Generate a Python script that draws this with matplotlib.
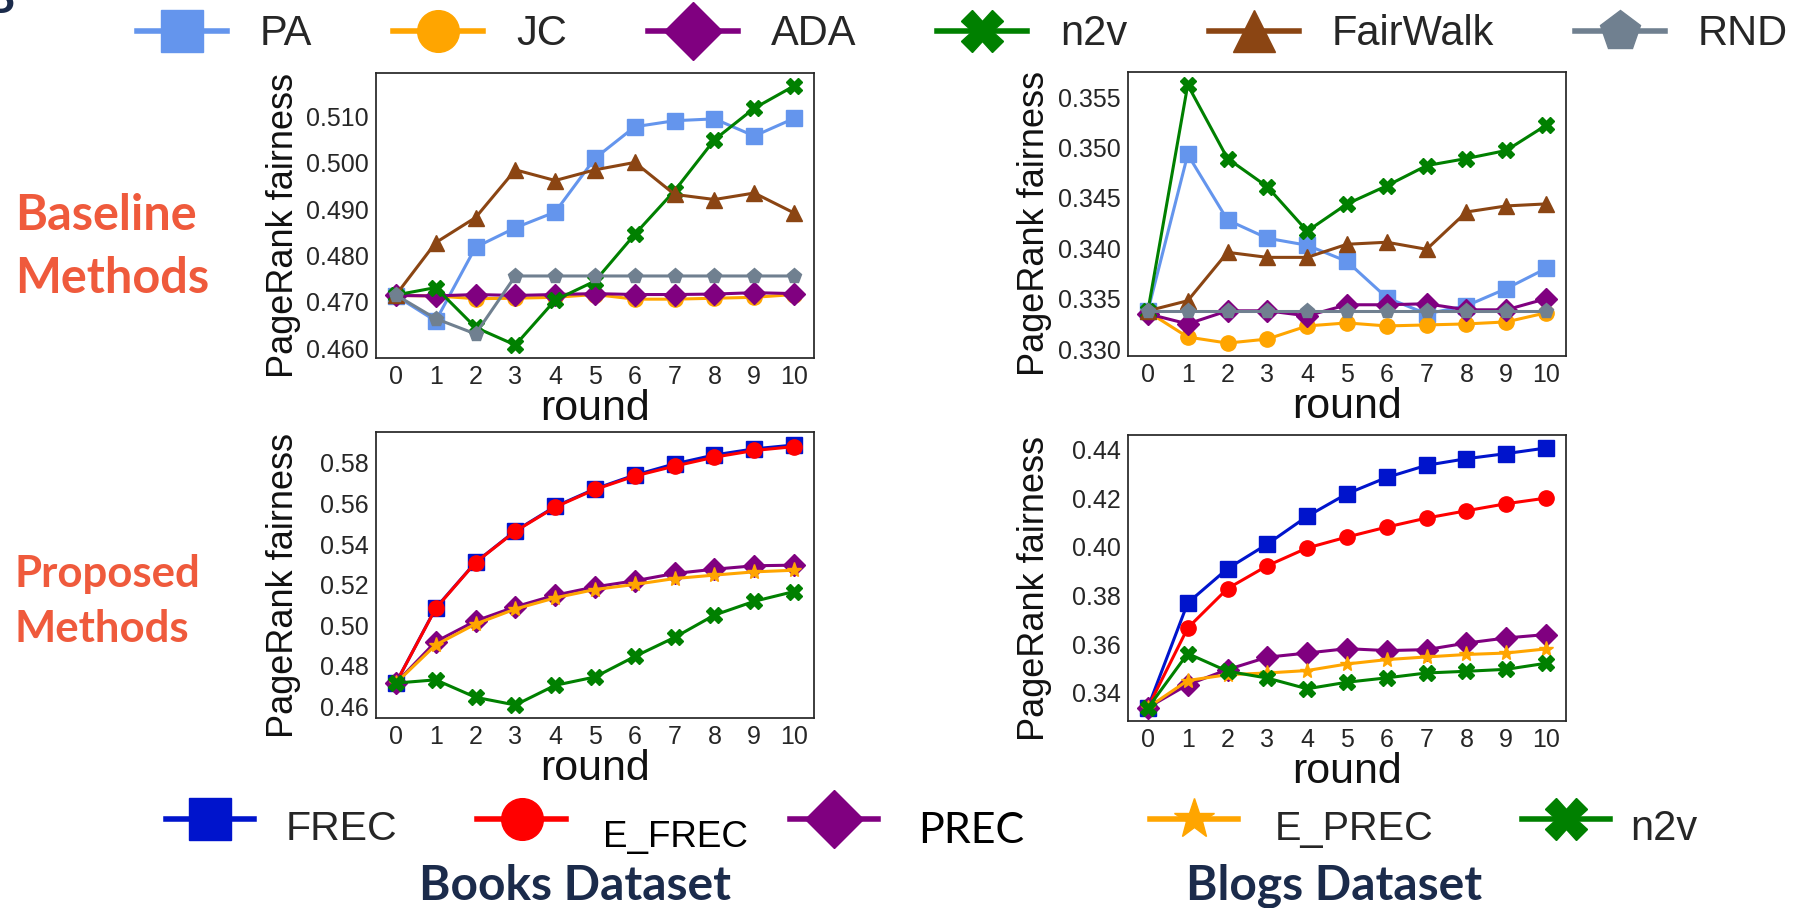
import matplotlib
matplotlib.use('Agg')
import matplotlib.pyplot as plt
from matplotlib.lines import Line2D
from matplotlib.ticker import MultipleLocator, FormatStrFormatter

plt.rcParams['font.family'] = ['Liberation Sans', 'DejaVu Sans']

rounds = [0, 1, 2, 3, 4, 5, 6, 7, 8, 9, 10]

# ---- Books dataset, baseline methods
books_PA = [0.4713, 0.4659, 0.4818, 0.4860, 0.4894, 0.5010, 0.5078, 0.5091, 0.5095, 0.5058, 0.5096]
books_JC = [0.4714, 0.4713, 0.4707, 0.4708, 0.4710, 0.4716, 0.4706, 0.4706, 0.4708, 0.4710, 0.4716]
books_ADA = [0.4714, 0.4713, 0.4716, 0.4714, 0.4716, 0.4718, 0.4716, 0.4716, 0.4717, 0.4720, 0.4718]
books_n2v = [0.4715, 0.4731, 0.4645, 0.4607, 0.4704, 0.4745, 0.4846, 0.4940, 0.5050, 0.5118, 0.5166]
books_FairWalk = [0.4715, 0.4828, 0.4882, 0.4985, 0.4962, 0.4985, 0.5001, 0.4932, 0.4921, 0.4935, 0.4892]
books_RND = [0.4715, 0.4664, 0.4631, 0.4756, 0.4756, 0.4756, 0.4756, 0.4756, 0.4756, 0.4756, 0.4756]

# ---- Blogs dataset, baseline methods
blogs_PA = [0.3338, 0.3493, 0.3428, 0.3410, 0.3403, 0.3387, 0.3351, 0.3335, 0.3343, 0.3360, 0.3380]
blogs_JC = [0.3337, 0.3312, 0.3306, 0.3310, 0.3323, 0.3326, 0.3323, 0.3324, 0.3325, 0.3327, 0.3336]
blogs_ADA = [0.3335, 0.3325, 0.3338, 0.3338, 0.3333, 0.3344, 0.3344, 0.3345, 0.3339, 0.3339, 0.3350]
blogs_n2v = [0.3338, 0.3562, 0.3489, 0.3461, 0.3417, 0.3444, 0.3462, 0.3482, 0.3489, 0.3497, 0.3522]
blogs_FairWalk = [0.3338, 0.3348, 0.3396, 0.3391, 0.3391, 0.3404, 0.3406, 0.3399, 0.3436, 0.3442, 0.3444]
blogs_RND = [0.3338, 0.3338, 0.3338, 0.3338, 0.3338, 0.3338, 0.3338, 0.3338, 0.3338, 0.3338, 0.3338]

# ---- Books dataset, proposed methods
books_FREC = [0.4715, 0.5085, 0.5310, 0.5465, 0.5585, 0.5672, 0.5740, 0.5795, 0.5839, 0.5869, 0.5888]
books_E_FREC = [0.4715, 0.5083, 0.5309, 0.5463, 0.5582, 0.5669, 0.5735, 0.5784, 0.5828, 0.5861, 0.5880]
books_PREC = [0.4715, 0.4919, 0.5021, 0.5091, 0.5148, 0.5189, 0.5219, 0.5255, 0.5276, 0.5293, 0.5296]
books_E_PREC = [0.4715, 0.4903, 0.5006, 0.5080, 0.5135, 0.5176, 0.5201, 0.5230, 0.5247, 0.5263, 0.5271]

# ---- Blogs dataset, proposed methods
blogs_FREC = [0.3340, 0.3770, 0.3911, 0.4012, 0.4126, 0.4219, 0.4286, 0.4336, 0.4363, 0.4384, 0.4407]
blogs_E_FREC = [0.3340, 0.3667, 0.3829, 0.3923, 0.3996, 0.4041, 0.4082, 0.4119, 0.4149, 0.4178, 0.4201]
blogs_PREC = [0.3340, 0.3434, 0.3496, 0.3547, 0.3564, 0.3582, 0.3574, 0.3578, 0.3605, 0.3626, 0.3640]
blogs_E_PREC = [0.3340, 0.3451, 0.3475, 0.3482, 0.3492, 0.3519, 0.3537, 0.3548, 0.3558, 0.3564, 0.3581]

baseline_names = ['PA', 'JC', 'ADA', 'n2v', 'FairWalk', 'RND']
proposed_names = ['FREC', 'E_FREC', 'PREC', 'E_PREC', 'n2v']
x_tick_labels = ['0', '1', '2', '3', '4', '5', '6', '7', '8', '9', '10']

styles = {
    'PA': ('#6495ED', 's'),
    'JC': ('#FFA500', 'o'),
    'ADA': ('#800080', 'D'),
    'n2v': ('#008000', 'X'),
    'FairWalk': ('#8B4513', '^'),
    'RND': ('#708090', 'p'),
    'FREC': ('#0014CC', 's'),
    'E_FREC': ('#FF0000', 'o'),
    'PREC': ('#800080', 'D'),
    'E_PREC': ('#FFA500', '*'),
}

W, H = 1797, 908
fig = plt.figure(figsize=(W / 100, H / 100), dpi=100)
fig.patch.set_facecolor('white')


def px_axes(l, t, r, b):
    return fig.add_axes([l / W, 1 - b / H, (r - l) / W, (b - t) / H])


def style_axes(ax, step, fmt, label_x):
    for s in ax.spines.values():
        s.set_color('#262626')
        s.set_linewidth(1.25)
    ax.set_xticks(rounds)
    ax.set_xticklabels(x_tick_labels)
    ax.yaxis.set_major_locator(MultipleLocator(step))
    ax.yaxis.set_major_formatter(FormatStrFormatter(fmt))
    ax.tick_params(length=0, labelsize=18, pad=5, colors='#262626')
    ax.set_xlabel('round', fontsize=31, labelpad=0, color='#111111')
    ax.set_ylabel('PageRank fairness', fontsize=26, color='#111111')
    ax.yaxis.set_label_coords(label_x, 0.465)
    ax.set_xlim(-0.5, 10.5)


def plot_series(ax, names, data):
    for name, vals in zip(names, data):
        c, m = styles[name]
        ax.plot(rounds, vals, color=c, marker=m, markersize=11, linewidth=2.2,
                markeredgecolor=c, label=name)


ax_tl = px_axes(376, 73, 814, 358)
plot_series(ax_tl, baseline_names,
            [books_PA, books_JC, books_ADA, books_n2v, books_FairWalk, books_RND])
style_axes(ax_tl, 0.01, '%.3f', -0.171)

ax_tr = px_axes(1128, 72, 1566, 356)
plot_series(ax_tr, baseline_names,
            [blogs_PA, blogs_JC, blogs_ADA, blogs_n2v, blogs_FairWalk, blogs_RND])
style_axes(ax_tr, 0.005, '%.3f', -0.1735)

ax_bl = px_axes(376, 432, 814, 718)
plot_series(ax_bl, proposed_names,
            [books_FREC, books_E_FREC, books_PREC, books_E_PREC, books_n2v])
style_axes(ax_bl, 0.02, '%.2f', -0.171)

ax_br = px_axes(1128, 435, 1566, 721)
plot_series(ax_br, proposed_names,
            [blogs_FREC, blogs_E_FREC, blogs_PREC, blogs_E_PREC, blogs_n2v])
style_axes(ax_br, 0.02, '%.2f', -0.1735)


def proxy(name):
    c, m = styles[name]
    return Line2D([], [], color=c, marker=m, markersize=30, linewidth=4,
                  markeredgecolor=c)


# ---- top legend
fs_leg = 30
px_per_fs = fs_leg * 100 / 72.0
fig.legend([proxy(n) for n in baseline_names], baseline_names,
           loc='center left', bbox_to_anchor=(136.6 / W, 1 - 34.3 / H),
           ncol=6, frameon=False, fontsize=fs_leg, labelcolor='#262626',
           handlelength=90 / px_per_fs, handletextpad=33 / px_per_fs,
           columnspacing=81 / px_per_fs, borderpad=0, borderaxespad=0)

# ---- bottom legend (irregularly placed entries)
bottom_handles_x = [166, 477.5, 790, 1150, 1522]
bottom_text = [
    (286, 840, 29.5, '#262626', ['Liberation Sans']),
    (602.6, 847, 26.5, '#000000', ['Liberation Sans']),
    (918, 843.3, 31, '#000000', ['Lato', 'Liberation Sans']),
    (1275, 840, 28.5, '#262626', ['Liberation Sans']),
    (1630.6, 840, 30, '#262626', ['Liberation Sans']),
]
for name, hx, (tx, ty, tfs, tc, tfam) in zip(proposed_names, bottom_handles_x, bottom_text):
    fig.legend([proxy(name)], [''], loc='center left',
               bbox_to_anchor=(hx / W, 1 - 823 / H), frameon=False,
               fontsize=fs_leg, handlelength=88 / px_per_fs, handletextpad=0,
               borderpad=0, borderaxespad=0)
    fig.text(tx / W, 1 - ty / H, name, fontsize=tfs, color=tc, family=tfam,
             ha='left', va='baseline')

# ---- row labels
row_color = '#EF5A3C'
for txt, y, fs in [('Baseline', 230, 35), ('Methods', 293, 35),
                   ('Proposed', 587, 31.5), ('Methods', 642, 31.5)]:
    fig.text(15 / W, 1 - y / H, txt, fontsize=fs, fontweight='bold',
             family=['Lato', 'DejaVu Sans'], color=row_color, ha='left', va='baseline')

# ---- dataset labels
navy = '#1B2B4B'
fig.text(575 / W, 1 - 900 / H, 'Books Dataset', fontsize=34.5, fontweight='bold',
         family=['Lato', 'DejaVu Sans'], color=navy, ha='center', va='baseline')
fig.text(1334 / W, 1 - 900 / H, 'Blogs Dataset', fontsize=34.5, fontweight='bold',
         family=['Lato', 'DejaVu Sans'], color=navy, ha='center', va='baseline')
# clipped panel letter at the top-left corner (cut off in the reference too)
fig.text(15 / W, 1 - 13 / H, 'B', fontsize=33, fontweight='bold',
         family=['Lato', 'DejaVu Sans'], color=navy, ha='right', va='baseline')

fig.savefig('out.png', dpi=100, facecolor='white')
